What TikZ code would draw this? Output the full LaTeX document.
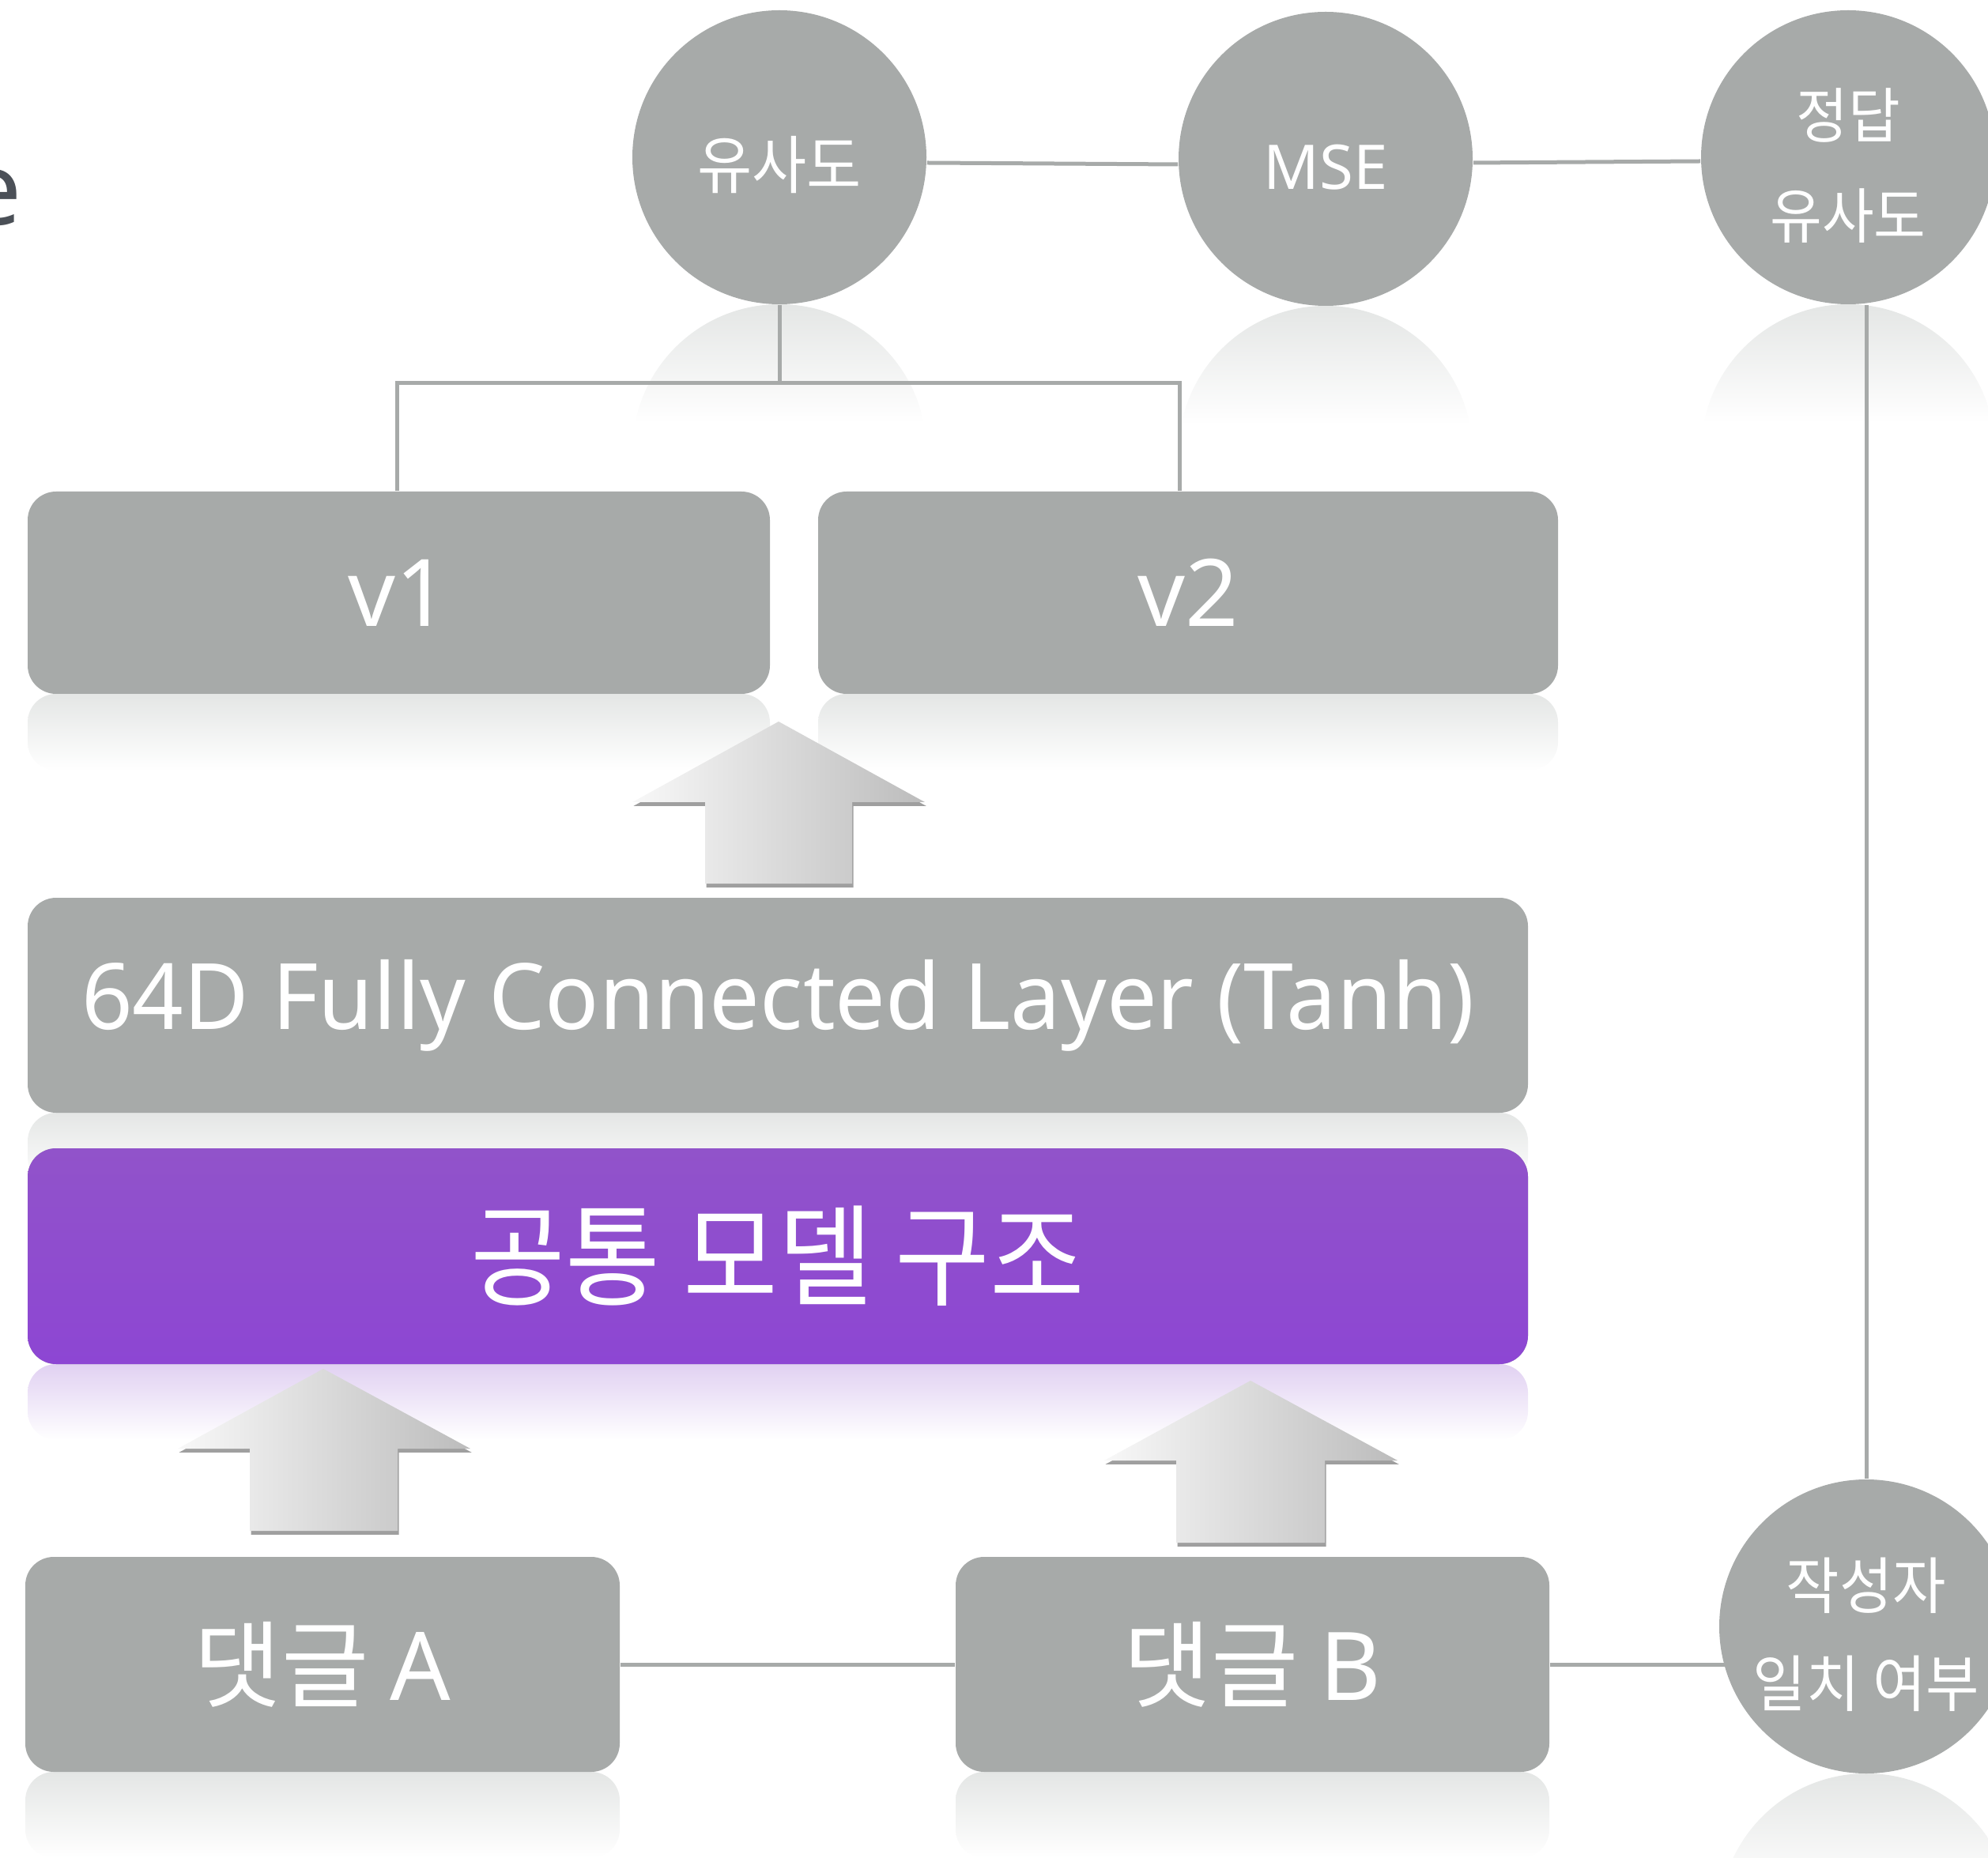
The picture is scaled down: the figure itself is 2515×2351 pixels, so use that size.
\documentclass[tikz,border=0pt]{standalone}
\usepackage{fontspec}
\setmainfont{Noto Sans CJK KR}
\newfontfamily\krn[FakeStretch=0.94]{Noto Sans CJK KR}
\newfontfamily\krb[FakeStretch=0.93]{Noto Sans CJK KR}
\newfontfamily\kr{Noto Sans CJK KR}
\newfontfamily\lat{Noto Sans}
\newfontfamily\latn[FakeStretch=0.975]{Noto Sans}
\usetikzlibrary{shadows,calc}
\pgfdeclarelayer{bg}
\pgfdeclarelayer{mid}
\pgfsetlayers{bg,mid,main}
\definecolor{boxgray}{HTML}{A7AAA9}
\definecolor{purp}{HTML}{8D46D3}
\definecolor{purptop}{HTML}{9153CA}
\definecolor{refg}{HTML}{E4E6E5}
\definecolor{refp}{HTML}{E1D1F2}
\definecolor{darktxt}{HTML}{4B5057}
\definecolor{arL}{HTML}{F8F8F8}
\definecolor{arR}{HTML}{BCBCBC}
\begin{document}
\begin{tikzpicture}[x=0.25pt,y=-0.25pt,
  box/.style={rounded corners=9pt, fill=boxgray, text=white, inner sep=0pt},
  bubble/.style={circle, fill=boxgray, minimum size=93pt, inner sep=0pt},
  bubtxt/.style={text=white, inner sep=0pt, align=center},
  link/.style={draw=boxgray, line width=1.25pt},
  bigarrow/.style={left color=arL, right color=arR,
     drop shadow={shadow xshift=0.4pt, shadow yshift=-1.2pt, opacity=0.5, fill=black!75}},
  reflg/.style={top color=refg, bottom color=white},
  reflp/.style={top color=refp, bottom color=white},
]
\useasboundingbox (0,0) rectangle (2515,2351);

% ---- nodes ----
\node[anchor=base east, inner sep=0pt, text=darktxt, font=\lat\fontsize{32}{38}\selectfont] (etxt) at (28,285) {e};

\node[bubble] (c1) at (986,199) {};
\node[bubble] (c2) at (1677,201) {};
\node[bubble] (c3) at (2338,199) {};
\node[bubble] (c4) at (2361,2058) {};
\node[bubtxt, font=\krn\fontsize{20}{24}\selectfont] (c1t) at ([yshift=-2.5pt]c1) {유사도};
\node[bubtxt, font=\lat\fontsize{19.5}{24}\selectfont] (c2t) at ([yshift=-2.75pt]c2) {MSE};
\node[bubtxt, font=\krn\fontsize{19}{31.75}\selectfont] (c3t) at ([yshift=-2.75pt]c3) {정답\\유사도};
\node[bubtxt, font=\krn\fontsize{19.5}{31}\selectfont] (c4t) at ([yshift=-2.5pt]c4) {작성자\\일치 여부};

\node[box, minimum width=234.75pt, minimum height=64pt, font=\lat\fontsize{29.5}{34}\selectfont] (v1) at (504.5,750) {v1};
\node[box, minimum width=234pt, minimum height=64pt, font=\lat\fontsize{29.5}{34}\selectfont] (v2) at (1503,750) {v2};
\node[box, minimum width=474.5pt, minimum height=68pt, font=\latn\fontsize{29}{34}\selectfont] (fc) at (984,1272) {64D Fully Connected Layer (Tanh)};
\node[box, top color=purptop, middle color=purp, bottom color=purp, minimum width=474.5pt, minimum height=68.25pt, font=\krb\fontsize{35}{40}\selectfont]
      (model) at (984,1589.5) {공통 모델 구조};
\node[box, minimum width=188pt, minimum height=68pt, font=\kr\fontsize{30}{36}\selectfont] (ca) at (408,2106) {댓글 {\lat A}};
\node[box, minimum width=187.75pt, minimum height=68pt, font=\kr\fontsize{30}{36}\selectfont] (cb) at (1584.5,2106) {댓글 {\lat B}};

% ---- reflections ----
\begin{pgfonlayer}{bg}
  \shade[reflg, rounded corners=9pt] (35,878) rectangle (974,975);
  \shade[reflg, rounded corners=9pt] (1035,878) rectangle (1971,975);
  \shade[reflg, rounded corners=9pt] (35,1408) rectangle (1933,1500);
  \shade[reflp, rounded corners=9pt] (35,1726) rectangle (1933,1822);
  \shade[reflg, rounded corners=9pt] (32,2242) rectangle (784,2351);
  \shade[reflg, rounded corners=9pt] (1209,2242) rectangle (1960,2351);
  \foreach \cx/\cy in {986/385, 1677/387, 2338/385, 2361/2244}{
    \begin{scope}
      \clip (\cx,\cy+186) circle (186);
      \shade[reflg] (\cx-190,\cy) rectangle (\cx+190,\cy+150);
    \end{scope}
  }
\end{pgfonlayer}

% ---- connectors ----
\begin{pgfonlayer}{mid}
  \coordinate (j) at (986,485);
  \draw[link] ([yshift=-1.75pt]c1.east) -- ([yshift=-1.75pt]c2.west);
  \draw[link] ([yshift=-1.25pt]c2.east) -- ([yshift=-1.25pt]c3.west);
  \draw[link] (c1.south) -- (j);
  \draw[link] ([xshift=-0.6pt]v1.north) |- (j) -| ([xshift=-2.75pt]v2.north);
  \draw[link] (c4.north) -- (c4.north |- c3.south);
  \draw[link] (ca) -- (cb);
  \draw[link] (cb.east) -- (cb.east -| c4.center);
\end{pgfonlayer}

% ---- block arrows ----
\path[bigarrow] (985,913) -- (1170,1015) -- (1078,1015) -- (1078,1118) -- (892,1118) -- (892,1015) -- (800,1015) -- cycle;
\path[bigarrow] (409,1732) -- (595,1833) -- (503,1833) -- (503,1937) -- (316,1937) -- (316,1833) -- (225,1833) -- cycle;
\path[bigarrow] (1582,1747) -- (1768,1848) -- (1676,1848) -- (1676,1952) -- (1488,1952) -- (1488,1848) -- (1397,1848) -- cycle;
\end{tikzpicture}
\end{document}
